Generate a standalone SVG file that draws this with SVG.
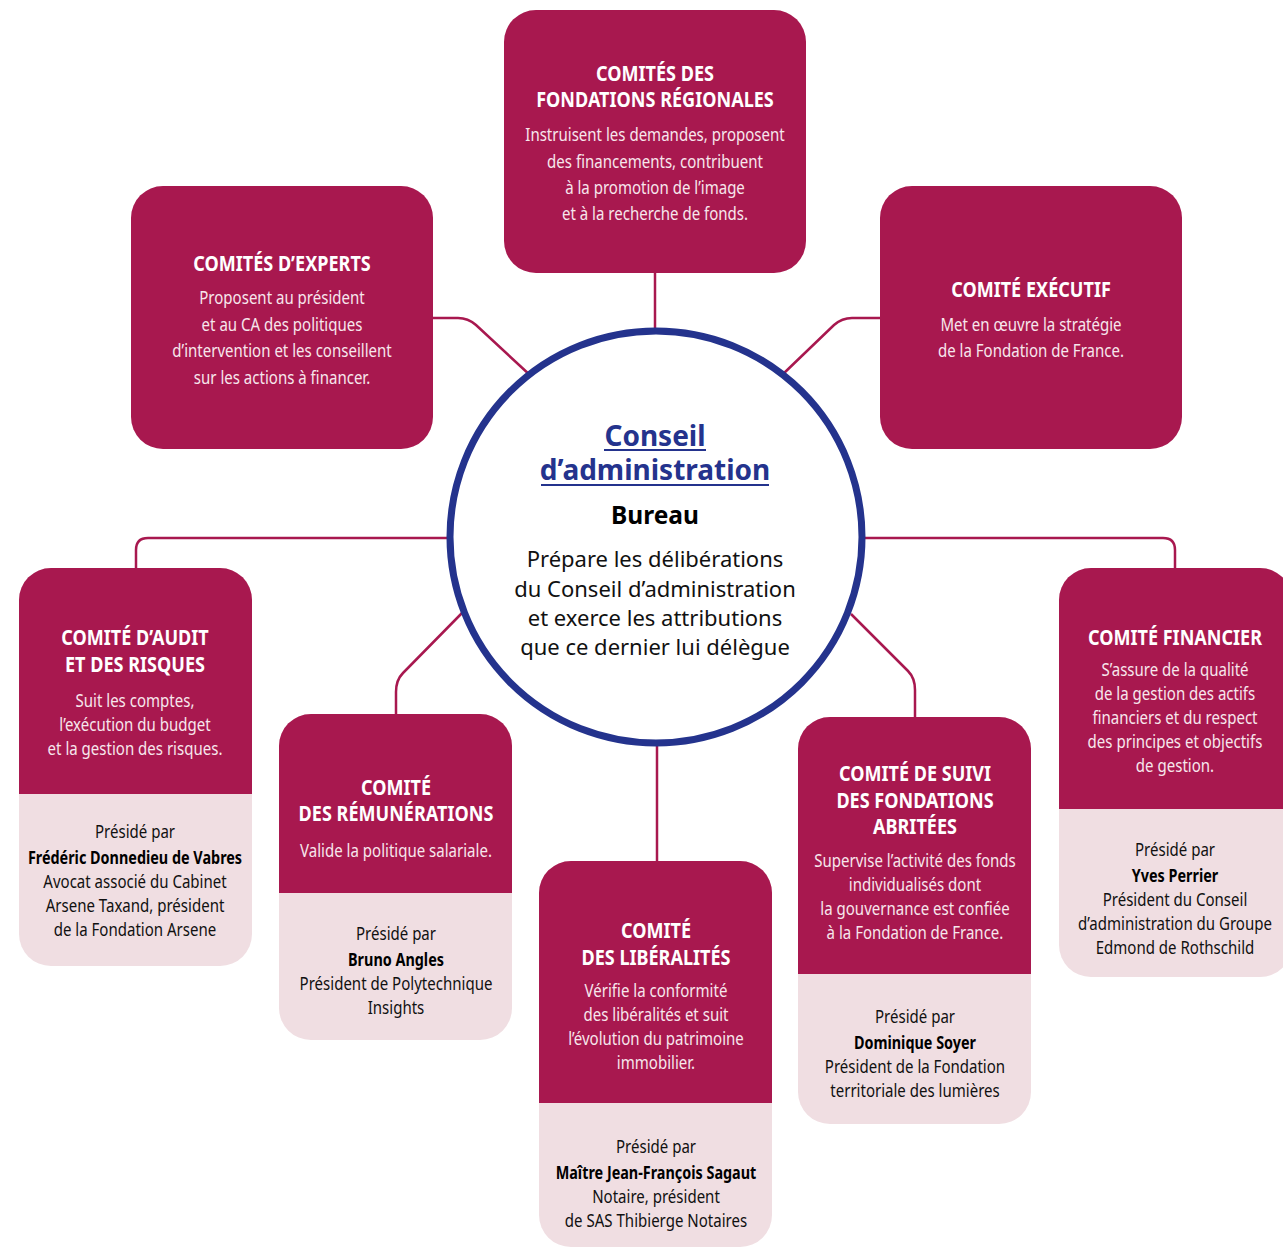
<svg xmlns="http://www.w3.org/2000/svg" width="1283" height="1248" viewBox="0 0 1283 1248">
<style>
.dk{fill:#A8184F}
.lt{fill:#F0DEE2}
.con{fill:none;stroke:#A8184F;stroke-width:2.5}
.t{font-family:"Noto Sans","Open Sans",sans-serif;text-anchor:middle}
.ti{font-weight:bold;font-size:21.5px;fill:#fff}
.bd{font-size:18px;fill:#F7E6EC}
.pr{font-size:18px;fill:#111}
.nm{font-size:18px;font-weight:bold;fill:#000}
.c{font-family:"Noto Sans","Open Sans",sans-serif;text-anchor:middle}
</style>
<rect width="1283" height="1248" fill="#fff"/>
<g id="connectors">
<path class="con" d="M655,273 V332"/>
<path class="con" d="M433,318 H458 Q468,318 476,325 L531,376"/>
<path class="con" d="M880,318 H852 Q842,318 834,325 L782,375"/>
<path class="con" d="M449,538 H148 Q136,538 136,550 V568"/>
<path class="con" d="M863,538 H1163 Q1175,538 1175,550 V568"/>
<path class="con" d="M462,613 L403,673 Q396,680 396,692 V714"/>
<path class="con" d="M851,614 L908,671 Q915,678 915,690 V717"/>
<path class="con" d="M657,745 V861"/>
</g>
<g id="conseil">
<circle cx="656" cy="537" r="206" fill="#fff" stroke="#24338D" stroke-width="7"/>
<text class="c" x="655" y="446" font-size="28" font-weight="bold" fill="#24338D">Conseil</text>
<line x1="604" y1="450" x2="706" y2="450" stroke="#24338D" stroke-width="2"/>
<text class="c" x="655" y="480" font-size="28" font-weight="bold" fill="#24338D">d’administration</text>
<line x1="541" y1="485" x2="769" y2="485" stroke="#24338D" stroke-width="2"/>
<text class="c" x="655" y="524" font-size="24.5" font-weight="bold" fill="#000">Bureau</text>
<text class="c" font-size="22" fill="#111"><tspan x="655" y="567">Prépare les délibérations</tspan><tspan x="655" y="597">du Conseil d’administration</tspan><tspan x="655" y="626">et exerce les attributions</tspan><tspan x="655" y="655">que ce dernier lui délègue</tspan></text>
</g>
<g id="fondations-regionales">
<rect class="dk" x="504" y="10" width="302" height="263" rx="32"/>
<g transform="matrix(0.84,0,0,1,104.8,0)"><text class="t ti"><tspan x="655" y="81">COMITÉS DES</tspan><tspan x="655" y="107">FONDATIONS RÉGIONALES</tspan></text></g>
<g transform="matrix(0.835,0,0,1,108.075,0)"><text class="t bd"><tspan x="655" y="141">Instruisent les demandes, proposent</tspan><tspan x="655" y="168">des financements, contribuent</tspan><tspan x="655" y="194">à la promotion de l’image</tspan><tspan x="655" y="220">et à la recherche de fonds.</tspan></text></g>
</g>
<g id="experts">
<rect class="dk" x="131" y="186" width="302" height="263" rx="32"/>
<g transform="matrix(0.84,0,0,1,45.12,0)"><text class="t ti" x="282" y="271">COMITÉS D’EXPERTS</text></g>
<g transform="matrix(0.835,0,0,1,46.53,0)"><text class="t bd"><tspan x="282" y="304">Proposent au président</tspan><tspan x="282" y="331">et au CA des politiques</tspan><tspan x="282" y="357">d’intervention et les conseillent</tspan><tspan x="282" y="384">sur les actions à financer.</tspan></text></g>
</g>
<g id="executif">
<rect class="dk" x="880" y="186" width="302" height="263" rx="32"/>
<g transform="matrix(0.84,0,0,1,164.96,0)"><text class="t ti" x="1031" y="297">COMITÉ EXÉCUTIF</text></g>
<g transform="matrix(0.835,0,0,1,170.115,0)"><text class="t bd"><tspan x="1031" y="331">Met en œuvre la stratégie</tspan><tspan x="1031" y="357">de la Fondation de France.</tspan></text></g>
</g>
<g id="audit">
<rect class="lt" x="19" y="568" width="233" height="398" rx="32"/>
<path class="dk" d="M19,794 V600 A32,32 0 0 1 51,568 H220 A32,32 0 0 1 252,600 V794 Z"/>
<g transform="matrix(0.84,0,0,1,21.6,0)"><text class="t ti"><tspan x="135" y="645">COMITÉ D’AUDIT</tspan><tspan x="135" y="672">ET DES RISQUES</tspan></text></g>
<g transform="matrix(0.835,0,0,1,22.275,0)"><text class="t bd"><tspan x="135" y="707">Suit les comptes,</tspan><tspan x="135" y="731">l’exécution du budget</tspan><tspan x="135" y="755">et la gestion des risques.</tspan></text>
<text class="t pr"><tspan x="135" y="838">Présidé par</tspan><tspan x="135" y="888">Avocat associé du Cabinet</tspan><tspan x="135" y="912">Arsene Taxand, président</tspan><tspan x="135" y="936">de la Fondation Arsene</tspan></text></g>
<g transform="matrix(0.8,0,0,1,27,0)"><text class="t nm" x="135" y="864">Frédéric Donnedieu de Vabres</text></g>
</g>
<g id="remunerations">
<rect class="lt" x="279" y="714" width="233" height="326" rx="32"/>
<path class="dk" d="M279,893 V746 A32,32 0 0 1 311,714 H480 A32,32 0 0 1 512,746 V893 Z"/>
<g transform="matrix(0.84,0,0,1,63.36,0)"><text class="t ti"><tspan x="396" y="795">COMITÉ</tspan><tspan x="396" y="821">DES RÉMUNÉRATIONS</tspan></text></g>
<g transform="matrix(0.835,0,0,1,65.34,0)"><text class="t bd" x="396" y="857">Valide la politique salariale.</text>
<text class="t pr"><tspan x="396" y="940">Présidé par</tspan><tspan x="396" y="990">Président de Polytechnique</tspan><tspan x="396" y="1014">Insights</tspan></text></g>
<g transform="matrix(0.8,0,0,1,79.2,0)"><text class="t nm" x="396" y="966">Bruno Angles</text></g>
</g>
<g id="liberalites">
<rect class="lt" x="539" y="861" width="233" height="386" rx="32"/>
<path class="dk" d="M539,1103 V893 A32,32 0 0 1 571,861 H740 A32,32 0 0 1 772,893 V1103 Z"/>
<g transform="matrix(0.84,0,0,1,104.96,0)"><text class="t ti"><tspan x="656" y="938">COMITÉ</tspan><tspan x="656" y="965">DES LIBÉRALITÉS</tspan></text></g>
<g transform="matrix(0.835,0,0,1,108.24,0)"><text class="t bd"><tspan x="656" y="997">Vérifie la conformité</tspan><tspan x="656" y="1021">des libéralités et suit</tspan><tspan x="656" y="1045">l’évolution du patrimoine</tspan><tspan x="656" y="1069">immobilier.</tspan></text>
<text class="t pr"><tspan x="656" y="1153">Présidé par</tspan><tspan x="656" y="1203">Notaire, président</tspan><tspan x="656" y="1227">de SAS Thibierge Notaires</tspan></text></g>
<g transform="matrix(0.8,0,0,1,131.2,0)"><text class="t nm" x="656" y="1179">Maître Jean-François Sagaut</text></g>
</g>
<g id="suivi">
<rect class="lt" x="798" y="717" width="233" height="407" rx="32"/>
<path class="dk" d="M798,974 V749 A32,32 0 0 1 830,717 H999 A32,32 0 0 1 1031,749 V974 Z"/>
<g transform="matrix(0.84,0,0,1,146.4,0)"><text class="t ti"><tspan x="915" y="781">COMITÉ DE SUIVI</tspan><tspan x="915" y="808">DES FONDATIONS</tspan><tspan x="915" y="834">ABRITÉES</tspan></text></g>
<g transform="matrix(0.835,0,0,1,150.975,0)"><text class="t bd"><tspan x="915" y="867">Supervise l’activité des fonds</tspan><tspan x="915" y="891">individualisés dont</tspan><tspan x="915" y="915">la gouvernance est confiée</tspan><tspan x="915" y="939">à la Fondation de France.</tspan></text>
<text class="t pr"><tspan x="915" y="1023">Présidé par</tspan><tspan x="915" y="1073">Président de la Fondation</tspan><tspan x="915" y="1097">territoriale des lumières</tspan></text></g>
<g transform="matrix(0.8,0,0,1,183,0)"><text class="t nm" x="915" y="1049">Dominique Soyer</text></g>
</g>
<g id="financier">
<rect class="lt" x="1059" y="568" width="233" height="409" rx="32"/>
<path class="dk" d="M1059,809 V600 A32,32 0 0 1 1091,568 H1260 A32,32 0 0 1 1292,600 V809 Z"/>
<g transform="matrix(0.84,0,0,1,188,0)"><text class="t ti" x="1175" y="645">COMITÉ FINANCIER</text></g>
<g transform="matrix(0.835,0,0,1,193.875,0)"><text class="t bd"><tspan x="1175" y="676">S’assure de la qualité</tspan><tspan x="1175" y="700">de la gestion des actifs</tspan><tspan x="1175" y="724">financiers et du respect</tspan><tspan x="1175" y="748">des principes et objectifs</tspan><tspan x="1175" y="772">de gestion.</tspan></text>
<text class="t pr"><tspan x="1175" y="856">Présidé par</tspan><tspan x="1175" y="906">Président du Conseil</tspan><tspan x="1175" y="930">d’administration du Groupe</tspan><tspan x="1175" y="954">Edmond de Rothschild</tspan></text></g>
<g transform="matrix(0.8,0,0,1,235,0)"><text class="t nm" x="1175" y="882">Yves Perrier</text></g>
</g>
</svg>
